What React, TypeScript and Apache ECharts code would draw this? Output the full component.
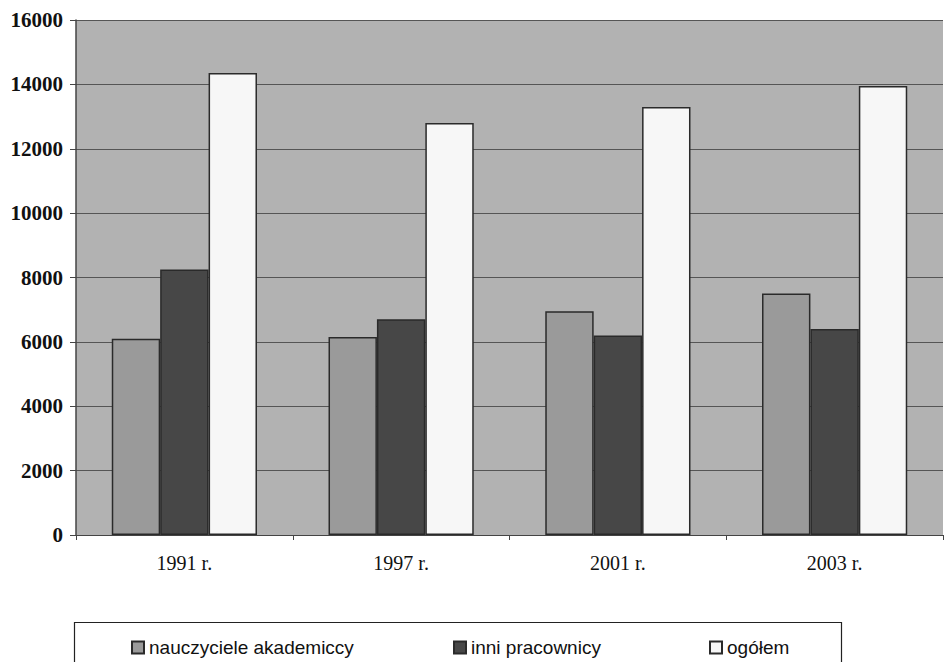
import React, { useEffect, useRef } from "react";
import * as echarts from "echarts";

const categories = ["1991 r.", "1997 r.", "2001 r.", "2003 r."];
const seriesNames = ["nauczyciele akademiccy", "inni pracownicy", "ogółem"];
const nauczyciele = [6100, 6150, 6950, 7500];
const inni = [8250, 6700, 6200, 6400];
const ogolem = [14350, 12800, 13300, 13950];
const seriesColors = ["#9a9a9a", "#474747", "#f7f7f7"];
const legendLefts = [126, 448, 704];

export default function App() {
  const ref = useRef<HTMLDivElement>(null);
  useEffect(() => {
    if (!ref.current) return;
    const chart = echarts.init(ref.current, undefined, { renderer: "svg" });
    const values = [nauczyciele, inni, ogolem];
    chart.setOption({
      animation: false,
      backgroundColor: "#ffffff",
      grid: {
        left: 76,
        right: 2,
        top: 20,
        bottom: 127,
        show: true,
        backgroundColor: "#b2b2b2",
        borderWidth: 0,
      },
      legend: seriesNames.map((n, i) => ({
        data: [n],
        left: legendLefts[i],
        top: 633,
        itemWidth: 12,
        itemHeight: 12,
        icon: "rect",
        textStyle: {
          fontFamily: "'Liberation Sans', Arial, sans-serif",
          fontSize: 19,
          color: "#111",
        },
      })),
      xAxis: {
        type: "category",
        data: categories,
        axisLine: { show: true, lineStyle: { color: "#444", width: 1 } },
        axisTick: { show: true, length: 5, lineStyle: { color: "#444" } },
        axisLabel: {
          margin: 18,
          fontFamily: "'Liberation Serif', serif",
          fontSize: 20,
          color: "#111",
        },
      },
      yAxis: {
        type: "value",
        min: 0,
        max: 16000,
        interval: 2000,
        axisLine: { show: true, lineStyle: { color: "#444", width: 1.5 } },
        axisTick: { show: true, length: 6, lineStyle: { color: "#444" } },
        axisLabel: {
          margin: 13,
          fontFamily: "'Liberation Serif', serif",
          fontWeight: "bold",
          fontSize: 21,
          color: "#111",
          formatter: (v: number) => String(v),
        },
        splitLine: { show: true, lineStyle: { color: "#555", width: 1 } },
      },
      series: seriesNames.map((n, i) => ({
        name: n,
        type: "bar",
        data: values[i],
        barGap: "0%",
        barCategoryGap: "33%",
        itemStyle: {
          color: seriesColors[i],
          borderColor: "#2a2a2a",
          borderWidth: 1.5,
        },
      })),
      graphic: [
        {
          type: "rect",
          left: 72,
          top: 620,
          shape: { width: 767, height: 60 },
          style: { fill: "none", stroke: "#222", lineWidth: 1.2 },
        },
      ],
    });
    return () => chart.dispose();
  }, []);
  return <div ref={ref} style={{ width: 945, height: 662, position: "absolute", left: 0, top: 0 }} />;
}
